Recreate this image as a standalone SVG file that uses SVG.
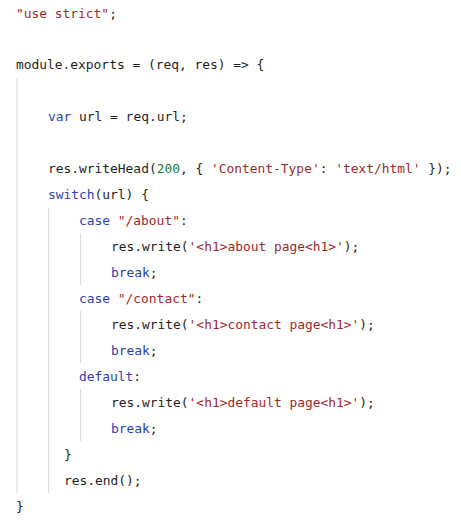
<svg xmlns="http://www.w3.org/2000/svg" width="461" height="522" viewBox="0 0 461 522">
<style>
text{font-family:"DejaVu Sans Mono","Liberation Mono",monospace;font-size:12.9px;fill:#1e1e1e;white-space:pre}
.s{fill:#a0282a}
.k{fill:#2b3db0}
.n{fill:#1a7a3a}
.g{stroke:#dcdcdc;stroke-width:1.2;fill:none}
</style>
<rect width="461" height="522" fill="#ffffff"/>
<g id="guides">
<line class="g" x1="17" y1="78" x2="17" y2="493"/>
<line class="g" x1="48.5" y1="208" x2="48.5" y2="493"/>
<line class="g" x1="80.5" y1="233" x2="80.5" y2="285"/>
<line class="g" x1="80.5" y1="311" x2="80.5" y2="363"/>
<line class="g" x1="80.5" y1="389" x2="80.5" y2="441"/>
</g>
<g id="code">
<text x="16" y="18"><tspan class="s">"use strict"</tspan>;</text>
<text x="16" y="69">module.exports = (req, res) =&gt; {</text>
<text x="48" y="121"><tspan class="k">var</tspan> url = req.url;</text>
<text x="48" y="173">res.writeHead(<tspan class="n">200</tspan>, { <tspan class="s">'Content-Type'</tspan>: <tspan class="s">'text/html'</tspan> });</text>
<text x="48" y="199"><tspan class="k">switch</tspan>(url) {</text>
<text x="79" y="225"><tspan class="k">case</tspan> <tspan class="s">"/about"</tspan>:</text>
<text x="111" y="251">res.write(<tspan class="s">'&lt;h1&gt;about page&lt;h1&gt;'</tspan>);</text>
<text x="111" y="277"><tspan class="k">break</tspan>;</text>
<text x="79" y="303"><tspan class="k">case</tspan> <tspan class="s">"/contact"</tspan>:</text>
<text x="111" y="329">res.write(<tspan class="s">'&lt;h1&gt;contact page&lt;h1&gt;'</tspan>);</text>
<text x="111" y="355"><tspan class="k">break</tspan>;</text>
<text x="79" y="381"><tspan class="k">default</tspan>:</text>
<text x="111" y="407">res.write(<tspan class="s">'&lt;h1&gt;default page&lt;h1&gt;'</tspan>);</text>
<text x="111" y="433"><tspan class="k">break</tspan>;</text>
<text x="64" y="459">}</text>
<text x="64" y="485">res.end();</text>
<text x="16" y="511">}</text>
</g>
</svg>
